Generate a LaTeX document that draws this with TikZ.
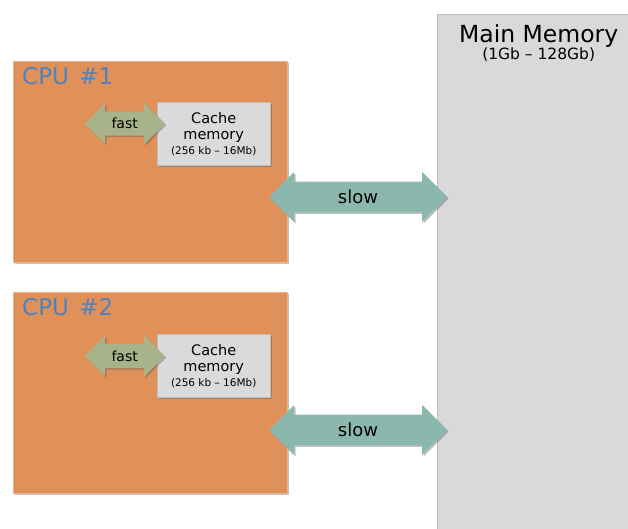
\documentclass[tikz,border=0pt]{standalone}
\usepackage{fontspec}
\setmainfont{DejaVu Sans}
\usetikzlibrary{positioning,shapes.arrows,shadows}
\definecolor{Cpu}{HTML}{E0915A}
\definecolor{CpuEdge}{HTML}{EDB48C}
\definecolor{Label}{HTML}{4F81BD}
\definecolor{Cache}{HTML}{DBDADB}
\definecolor{Mem}{HTML}{DAD8DA}
\definecolor{Fast}{HTML}{A8B38A}
\definecolor{Slow}{HTML}{8BB8AC}
\begin{document}
\begin{tikzpicture}[x=1pt,y=-1pt,
        sh/.style={drop shadow={shadow xshift=1.5pt,shadow yshift=-1.5pt,opacity=.35,fill=black!70}},
        cpu/.style={rectangle,sh,draw=CpuEdge,fill=Cpu,inner sep=0pt,minimum width=274pt,minimum height=201pt},
        lbl/.style={inner sep=0pt,anchor=north west,text=Label,font=\fontsize{23}{26}\selectfont},
        cache/.style={rectangle,sh,draw=black!25,fill=Cache,inner sep=0pt,minimum width=113pt,minimum height=63pt,align=center,font=\fontsize{14.5}{16.5}\selectfont},
        fast/.style={double arrow,sh,fill=Fast,inner xsep=1pt,inner ysep=4.5pt,minimum height=80pt,minimum width=41pt,font=\fontsize{14}{16}\selectfont},
        slow/.style={double arrow,sh,fill=Slow,inner xsep=2pt,inner ysep=4pt,minimum height=178pt,minimum width=50pt,font=\fontsize{18}{20}\selectfont}]
        \useasboundingbox (0,0) rectangle (628,529);
        \node[rectangle,sh,draw=black!25,fill=Mem,inner sep=0pt,minimum width=203pt,minimum height=526pt,anchor=north west] (mem) at (437,14) {};
        \node[inner sep=0pt,align=center,below=10pt of mem.north,font=\fontsize{15.5}{16}\selectfont] (memt) {{\fontsize{23.5}{24}\selectfont Main Memory}\\(1Gb – 128Gb)};
        \node[cpu,anchor=north west] (cpu1) at (13,61) {};
        \node[cpu,below=30pt of cpu1] (cpu2) {};
        \node[lbl,below right=6pt and 9pt of cpu1.north west] (l1) {CPU\hspace{.45em}\#1};
        \node[lbl,below right=6pt and 9pt of cpu2.north west] (l2) {CPU\hspace{.45em}\#2};
        \node[cache,below left=41pt and 17pt of cpu1.north east] (c1) {Cache\\memory\\[-2pt]{\fontsize{10.5}{12}\selectfont(256 kb – 16Mb)}};
        \node[cache,below left=42pt and 17pt of cpu2.north east] (c2) {Cache\\memory\\[-2pt]{\fontsize{10.5}{12}\selectfont(256 kb – 16Mb)}};
        \node[fast,left=-8pt of c1.west,yshift=10pt] (f1) {fast};
        \node[fast,left=-8pt of c2.west,yshift=10pt] (f2) {fast};
        \node[slow] (s1) at (358,197) {slow};
        \node[slow] (s2) at (358,430) {slow};
      \end{tikzpicture}
\end{document}
